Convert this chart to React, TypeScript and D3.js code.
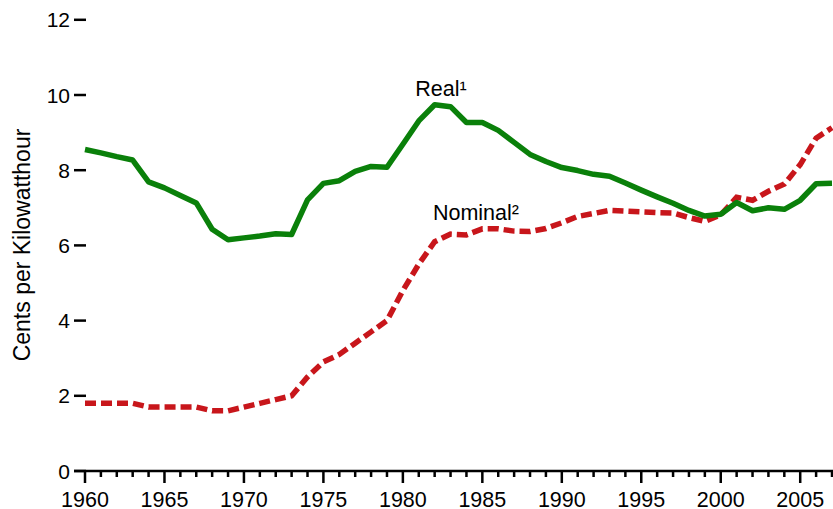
import React from "react";
import * as d3 from "d3";

const years: number[] = d3.range(1960, 2008);
const realValues: number[] = [
  8.55, 8.46, 8.36, 8.27, 7.69, 7.53, 7.33, 7.13, 6.43, 6.15,
  6.2, 6.25, 6.31, 6.29, 7.21, 7.65, 7.72, 7.97, 8.1, 8.08,
  8.69, 9.31, 9.74, 9.69, 9.27, 9.27, 9.06, 8.74, 8.42, 8.23,
  8.07, 7.99, 7.89, 7.84, 7.66, 7.47, 7.29, 7.12, 6.93, 6.78,
  6.83, 7.14, 6.92, 7.0, 6.96, 7.2, 7.64, 7.65,
];
const nominalValues: number[] = [
  1.8, 1.8, 1.8, 1.8, 1.7, 1.7, 1.7, 1.7, 1.6, 1.6,
  1.7, 1.8, 1.9, 2.0, 2.5, 2.9, 3.1, 3.4, 3.7, 4.0,
  4.8, 5.5, 6.1, 6.3, 6.28, 6.44, 6.44, 6.38, 6.37, 6.45,
  6.6, 6.77, 6.85, 6.93, 6.91, 6.89, 6.87, 6.86, 6.74, 6.64,
  6.81, 7.28, 7.2, 7.44, 7.63, 8.15, 8.85, 9.13,
];
const yTicks: number[] = [0, 2, 4, 6, 8, 10, 12];
const xMajorTicks: number[] = [1960, 1965, 1970, 1975, 1980, 1985, 1990, 1995, 2000, 2005];
const seriesLabels: string[] = ["Real¹", "Nominal²"];
const yAxisTitle = "Cents per Kilowatthour";

const FONT = "'Liberation Sans', Arial, Helvetica, sans-serif";

export default function App() {
  const W = 833;
  const H = 509;
  const x = d3.scaleLinear().domain([1960, 2007]).range([85, 832]);
  const y = d3.scaleLinear().domain([0, 12]).range([471, 19.8]);

  const realData = years.map((yr, i) => [yr, realValues[i]] as [number, number]);
  const nomData = years.map((yr, i) => [yr, nominalValues[i]] as [number, number]);
  const line = d3
    .line<[number, number]>()
    .x((d) => x(d[0]))
    .y((d) => y(d[1]));

  const minorTicks = d3.range(1960, 2008);

  return (
    <svg
      width={W}
      height={H}
      style={{ position: "absolute", left: 0, top: 0, background: "#fff" }}
      fontFamily={FONT}
    >
      <rect x={0} y={0} width={W} height={H} fill="#fff" />
      {yTicks.map((t) => (
        <g key={t}>
          <line x1={74} x2={86} y1={y(t)} y2={y(t)} stroke="#000" strokeWidth={2.5} />
          <text x={70} y={y(t) + 7.5} textAnchor="end" fontSize={21} fill="#000">
            {t}
          </text>
        </g>
      ))}
      <line x1={74} x2={833} y1={y(0)} y2={y(0)} stroke="#000" strokeWidth={2.5} />
      {minorTicks.map((t) => (
        <line
          key={t}
          x1={x(t)}
          x2={x(t)}
          y1={y(0)}
          y2={y(0) + (t % 5 === 0 ? 12 : 6)}
          stroke="#000"
          strokeWidth={2.5}
        />
      ))}
      {xMajorTicks.map((t) => (
        <text key={t} x={x(t)} y={506.5} textAnchor="middle" fontSize={21.5} fill="#000">
          {t}
        </text>
      ))}
      <text
        transform={`translate(30,245) rotate(-90)`}
        textAnchor="middle"
        fontSize={23}
        fill="#000"
      >
        {yAxisTitle}
      </text>
      <path
        d={line(nomData) || ""}
        fill="none"
        stroke="#c8161b"
        strokeWidth={5.5}
        strokeDasharray="11,5"
      />
      <path
        d={line(realData) || ""}
        fill="none"
        stroke="#0a800a"
        strokeWidth={5.5}
        strokeLinejoin="round"
      />
      <text x={x(1982.4)} y={95.5} textAnchor="middle" fontSize={21.5} fill="#000">
        {seriesLabels[0]}
      </text>
      <text x={x(1984.6)} y={220} textAnchor="middle" fontSize={21.5} fill="#000">
        {seriesLabels[1]}
      </text>
    </svg>
  );
}
